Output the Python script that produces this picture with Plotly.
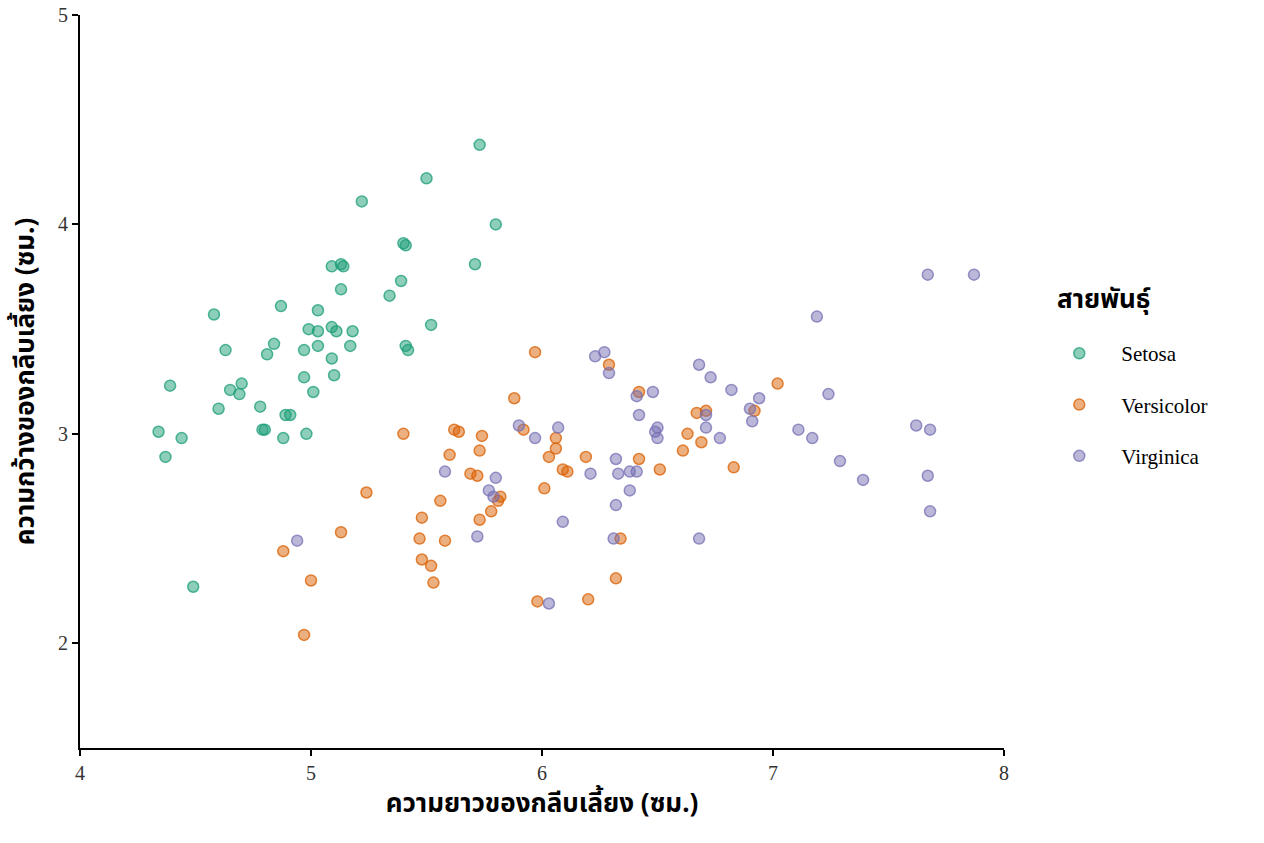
import plotly.graph_objects as go

# iris, jittered sepal length / sepal width
setosa_x = [4.34, 4.37, 4.39, 4.44, 4.49, 4.58, 4.60, 4.63, 4.65, 4.69,
            4.70, 4.78, 4.79, 4.80, 4.81, 4.84, 4.87, 4.88, 4.89, 4.91,
            4.97, 4.97, 4.98, 4.99, 5.01, 5.03, 5.03, 5.03, 5.09, 5.09,
            5.09, 5.10, 5.11, 5.13, 5.13, 5.14, 5.17, 5.18, 5.22, 5.34,
            5.39, 5.40, 5.41, 5.42, 5.41, 5.50, 5.52, 5.71, 5.73, 5.80]
setosa_y = [3.01, 2.89, 3.23, 2.98, 2.27, 3.57, 3.12, 3.40, 3.21, 3.19,
            3.24, 3.13, 3.02, 3.02, 3.38, 3.43, 3.61, 2.98, 3.09, 3.09,
            3.40, 3.27, 3.00, 3.50, 3.20, 3.42, 3.59, 3.49, 3.51, 3.36,
            3.80, 3.28, 3.49, 3.69, 3.81, 3.80, 3.42, 3.49, 4.11, 3.66,
            3.73, 3.91, 3.90, 3.40, 3.42, 4.22, 3.52, 3.81, 4.38, 4.00]

versicolor_x = [5.40, 5.62, 5.64, 5.74, 5.73, 5.60, 5.69, 5.72, 5.82, 5.81,
                5.56, 5.24, 5.78, 5.48, 5.73, 5.13, 5.47, 5.58, 4.88, 5.48,
                5.52, 5.00, 5.53, 4.97, 5.97, 6.29, 5.88, 6.42, 5.92, 6.06,
                6.06, 6.03, 6.19, 6.09, 6.11, 6.42, 6.51, 6.01, 6.34, 6.32,
                5.98, 6.20, 7.02, 6.92, 6.67, 6.71, 6.63, 6.69, 6.61, 6.83]
versicolor_y = [3.00, 3.02, 3.01, 2.99, 2.92, 2.90, 2.81, 2.80, 2.70, 2.68,
                2.68, 2.72, 2.63, 2.60, 2.59, 2.53, 2.50, 2.49, 2.44, 2.40,
                2.37, 2.30, 2.29, 2.04, 3.39, 3.33, 3.17, 3.20, 3.02, 2.98,
                2.93, 2.89, 2.89, 2.83, 2.82, 2.88, 2.83, 2.74, 2.50, 2.31,
                2.20, 2.21, 3.24, 3.11, 3.10, 3.11, 3.00, 2.96, 2.92, 2.84]

virginica_x = [4.94, 5.58, 5.80, 5.77, 5.79, 5.72, 6.23, 6.27, 6.29, 6.41,
               6.48, 6.42, 5.90, 5.97, 6.07, 6.21, 6.32, 6.33, 6.38, 6.41,
               6.49, 6.50, 6.50, 6.38, 6.32, 6.09, 6.31, 6.03, 6.68, 6.73,
               6.82, 7.24, 6.94, 6.90, 6.91, 6.71, 6.71, 6.77, 7.11, 7.17,
               7.29, 6.68, 7.67, 7.87, 7.19, 7.62, 7.68, 7.39, 7.67, 7.68]
virginica_y = [2.49, 2.82, 2.79, 2.73, 2.70, 2.51, 3.37, 3.39, 3.29, 3.18,
               3.20, 3.09, 3.04, 2.98, 3.03, 2.81, 2.88, 2.81, 2.82, 2.82,
               3.01, 3.03, 2.98, 2.73, 2.66, 2.58, 2.50, 2.19, 3.33, 3.27,
               3.21, 3.19, 3.17, 3.12, 3.06, 3.09, 3.03, 2.98, 3.02, 2.98,
               2.87, 2.50, 3.76, 3.76, 3.56, 3.04, 3.02, 2.78, 2.80, 2.63]

species = ["Setosa", "Versicolor", "Virginica"]
fills = ["rgba(27,158,119,0.5)", "rgba(217,95,2,0.5)", "rgba(117,112,179,0.5)"]
edges = ["rgba(27,158,119,0.75)", "rgba(217,95,2,0.75)", "rgba(117,112,179,0.75)"]

x_ticks = [4, 5, 6, 7, 8]
y_ticks = [2, 3, 4, 5]

THAI = "Noto Sans, Noto Sans Thai, Tahoma, sans-serif"
SERIF = "Liberation Serif, Times New Roman, serif"

fig = go.Figure()
for name, xs, ys, fc, ec in zip(species,
                                [setosa_x, versicolor_x, virginica_x],
                                [setosa_y, versicolor_y, virginica_y],
                                fills, edges):
    fig.add_trace(go.Scatter(
        x=xs, y=ys, mode="markers", name=name, legendgroup=name,
        marker=dict(size=11, color=fc, line=dict(color=ec, width=1.5)),
    ))

axis_common = dict(
    showgrid=False, zeroline=False, showline=True, linecolor="black", linewidth=2,
    ticks="outside", ticklen=6, tickwidth=2, tickcolor="black", automargin=False,
    ticklabeloverflow="allow",
    tickfont=dict(family=SERIF, size=20, color="#333333"),
)

fig.update_xaxes(range=[4, 8], tickvals=x_ticks,
                 title=dict(text="<b>ความยาวของกลีบเลี้ยง (ซม.)</b>",
                            font=dict(family=THAI, size=26, color="black"), standoff=10),
                 **axis_common)
fig.update_yaxes(range=[1.5, 5], tickvals=y_ticks,
                 title=dict(text="<b>ความกว้างของกลีบเลี้ยง (ซม.)</b>",
                            font=dict(family=THAI, size=26, color="black"), standoff=16),
                 **axis_common)

# legend title as a separate annotation so the gap above the first item can be set
fig.add_annotation(text="<b>สายพันธุ์</b>", xref="paper", yref="paper",
                   x=1.055, y=0.614, xanchor="left", yanchor="middle", showarrow=False,
                   font=dict(family=THAI, size=26, color="black"))

fig.update_layout(
    width=1264, height=843,
    margin=dict(l=80, r=260, t=15, b=95),
    plot_bgcolor="white", paper_bgcolor="white",
    legend=dict(
        font=dict(family=SERIF, size=21, color="black"),
        x=1.036, y=0.566, xanchor="left", yanchor="top",
        tracegroupgap=21, itemsizing="trace", itemwidth=74,
    ),
)

# drop the browser's default 8px body margin so the figure fills the window
fig.write_html("out.html", config={"displayModeBar": False},
               post_script="document.body.style.margin='0';")
